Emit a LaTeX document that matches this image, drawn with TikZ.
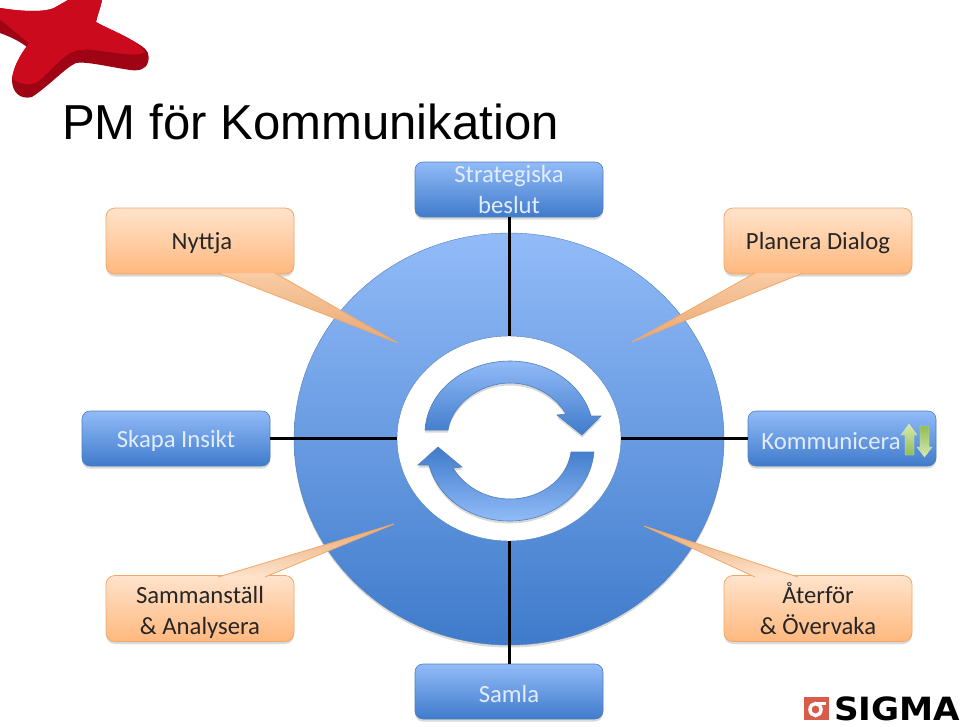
\documentclass[tikz,border=0pt]{standalone}
\usepackage{fontspec}
\setmainfont{Carlito}
\newfontfamily\titlefont{Liberation Sans}
\newfontfamily\logofont{DejaVu Sans}
\usetikzlibrary{shapes,shadows}

\definecolor{bluetop}{HTML}{92BBF8}
\definecolor{bluebot}{HTML}{3F7BCB}
\definecolor{blueline}{HTML}{4F7FB8}
\definecolor{orangetop}{HTML}{FFE3CC}
\definecolor{orangebot}{HTML}{FFB87E}
\definecolor{orangeline}{HTML}{F0A868}
\definecolor{tailpale}{HTML}{F9CBA4}
\definecolor{taildark}{HTML}{E8AA74}
\definecolor{textpale}{HTML}{E2ECFC}
\definecolor{starred}{HTML}{CC0A1E}
\definecolor{stardark}{HTML}{9E0414}
\definecolor{greentop}{HTML}{D6EAB0}
\definecolor{greenbot}{HTML}{93BC55}
\definecolor{sigmared}{HTML}{D85C4A}

\tikzset{
  softshadow/.style={drop shadow={opacity=0.3, shadow xshift=0pt, shadow yshift=-2.5pt}},
  bluebox/.style={rectangle, rounded corners=8pt, draw=blueline, line width=0.6pt, top color=bluetop, bottom color=bluebot,
    minimum width=188pt, minimum height=55pt, inner sep=0pt, outer sep=0pt, align=center, softshadow,
    font=\fontsize{24.7}{30.5}\selectfont, text=textpale, execute at begin node={\rule{0pt}{22pt}}},
  orangebox/.style={rectangle, rounded corners=9pt, draw=orangeline, line width=0.8pt, top color=orangetop, bottom color=orangebot,
    minimum width=188pt, minimum height=66pt, inner sep=0pt, outer sep=0pt, align=center, softshadow,
    font=\fontsize{24.7}{30.5}\selectfont, text=black!85, execute at begin node={\rule{0pt}{22pt}}},
  tailline/.style={draw=orangeline, line width=0.8pt},
  spoke/.style={draw=black, line width=3pt},
  cyclearrow/.style={draw=blueline, line width=0.6pt, softshadow},
  greenarrow/.style={draw=greentop, line width=0.4pt}
}

\begin{document}
\begin{tikzpicture}[x=1pt,y=-1pt]
\useasboundingbox (0,0) rectangle (960,726);

% logo star
\fill [stardark] (0,8) .. controls (25,12) and (45,12) .. (54,8) -- (68,0) -- (102,0) .. controls (100,10) and (97,16) .. (96,22)
  .. controls (110,30) and (130,38) .. (140,45) .. controls (148,50) and (150,55) .. (148,62) .. controls (146,70) and (138,71) .. (130,70)
  .. controls (110,67) and (85,61) .. (76,63) .. controls (65,68) and (50,85) .. (32,97) .. controls (20,100) and (12,92) .. (12,80)
  .. controls (13,68) and (20,55) .. (27,47) .. controls (18,40) and (8,36) .. (0,33) -- cycle;
\fill [starred] (0,8) .. controls (25,12) and (45,12) .. (54,8) -- (68,0) -- (102,0) .. controls (100,10) and (97,16) .. (96,22)
  .. controls (110,30) and (135,38) .. (145,52) .. controls (135,58) and (115,52) .. (84,49)
  .. controls (65,50) and (55,68) .. (37,82) .. controls (30,86) and (18,84) .. (12,78)
  .. controls (14,65) and (22,52) .. (29,43) .. controls (18,35) and (8,25) .. (0,20) -- cycle;
\draw [red!25!starred, line width=1pt] (26,84) .. controls (33,84) and (40,80) .. (46,73);
\draw [red!25!starred, line width=1pt] (72,51) .. controls (76,49) and (80,49) .. (85,50);

% title
\node (title) [anchor=west, inner sep=0pt, font=\titlefont\fontsize{49.1}{60}\selectfont] at (62,122) {PM för Kommunikation};

% wheel
\node (wheel) [ellipse, minimum width=430pt, minimum height=412pt, inner sep=0pt, outer sep=0pt, draw=blueline, top color=bluetop, bottom color=bluebot, softshadow] at (509,439) {};
\node (hub) [ellipse, minimum width=224pt, minimum height=205pt, inner sep=0pt, outer sep=0pt, draw=blueline, fill=white] at (509,438.5) {};

% boxes
\node (beslut) [bluebox] at (509,189.5) {Strategiska\\beslut};
\node (samla) [bluebox] at (509,691.5) {Samla};
\node (insikt) [bluebox] at (176,438.5) {Skapa Insikt};
\node (komm) [bluebox, text width=188pt] at (842,438.5) {\hspace*{-22pt}Kommunicera};
\node (nyttja) [orangebox] at (200,241) {\hspace*{4pt}Nyttja};
\node (dialog) [orangebox] at (818,241) {Planera Dialog};
\node (analys) [orangebox] at (200,608.5) {\rule{0pt}{25pt}Sammanställ\\\& Analysera};
\node (aterfor) [orangebox] at (818,608.5) {Återför\\\& Övervaka};

% spokes
\draw [spoke] (beslut) -- (hub);
\draw [spoke] (samla) -- (hub);
\draw [spoke] (insikt) -- (hub);
\draw [spoke] (komm) -- (hub);

% callout tails
\coordinate (nyttjatip) at (398,343);
\coordinate (nyttjaa) at (218,273);
\coordinate (nyttjab) at (275,273);
\coordinate (dialogtip) at (632,342);
\coordinate (dialoga) at (803,273);
\coordinate (dialogb) at (755,273);
\coordinate (analystip) at (394,524);
\coordinate (analysa) at (218,577);
\coordinate (analysb) at (265,577);
\coordinate (aterfortip) at (644,526);
\coordinate (aterfora) at (798,577);
\coordinate (aterforb) at (755,577);
\shade [top color=tailpale, bottom color=taildark] (nyttjaa) -- (nyttjatip) -- (nyttjab) -- cycle;
\shade [top color=tailpale, bottom color=taildark] (dialoga) -- (dialogtip) -- (dialogb) -- cycle;
\shade [top color=taildark, bottom color=orangetop] (analysa) -- (analystip) -- (analysb) -- cycle;
\shade [top color=taildark, bottom color=orangetop] (aterfora) -- (aterfortip) -- (aterforb) -- cycle;
\draw [tailline] (nyttjaa) -- (nyttjatip) -- (nyttjab);
\draw [tailline] (dialoga) -- (dialogtip) -- (dialogb);
\draw [tailline] (analysa) -- (analystip) -- (analysb);
\draw [tailline] (aterfora) -- (aterfortip) -- (aterforb);

% cycle arrows
\path [cyclearrow, top color=bluetop, bottom color=bluebot] (425,430) .. controls (428,388) and (468,361) .. (510,361)
  .. controls (550,361) and (582,385) .. (591,416) -- (601,416) -- (582,435) -- (557,415) -- (566,414)
  .. controls (556,397) and (535,383) .. (510,383) .. controls (480,383) and (452,404) .. (448,430) -- cycle;
\path [cyclearrow, top color=bluebot, bottom color=bluetop] (594,452) .. controls (590,492) and (552,521) .. (510,521)
  .. controls (470,521) and (438,498) .. (429,465) -- (418,465) -- (438,447) -- (462,467) -- (453,468)
  .. controls (464,486) and (485,499) .. (510,499) .. controls (540,499) and (567,480) .. (571,452) -- cycle;

% green arrows
\shade [greenarrow, top color=greentop, bottom color=greenbot] (909,424) -- (917,435) -- (914,435) -- (914,455) -- (905,455) -- (905,435) -- (901,435) -- cycle;
\shade [greenarrow, top color=greenbot, bottom color=greentop] (920,426) -- (929,426) -- (929,447) -- (932,447) -- (924.5,457) -- (917,447) -- (920,447) -- cycle;

% sigma logo
\node (sigmabox) [rectangle, fill=sigmared, minimum width=25pt, minimum height=23pt, inner sep=0pt] at (816.5,708.5) {};
\draw [white, line width=3.5pt] (815.5,709.5) ellipse (5.5pt and 6pt);
\fill [white] (815,702) rectangle (826,705);
\node (sigmatext) [anchor=west, inner sep=0pt, xscale=1.07, font=\logofont\bfseries\fontsize{32}{36}\selectfont] at (834,708.5) {SIGMA};
\end{tikzpicture}
\end{document}
